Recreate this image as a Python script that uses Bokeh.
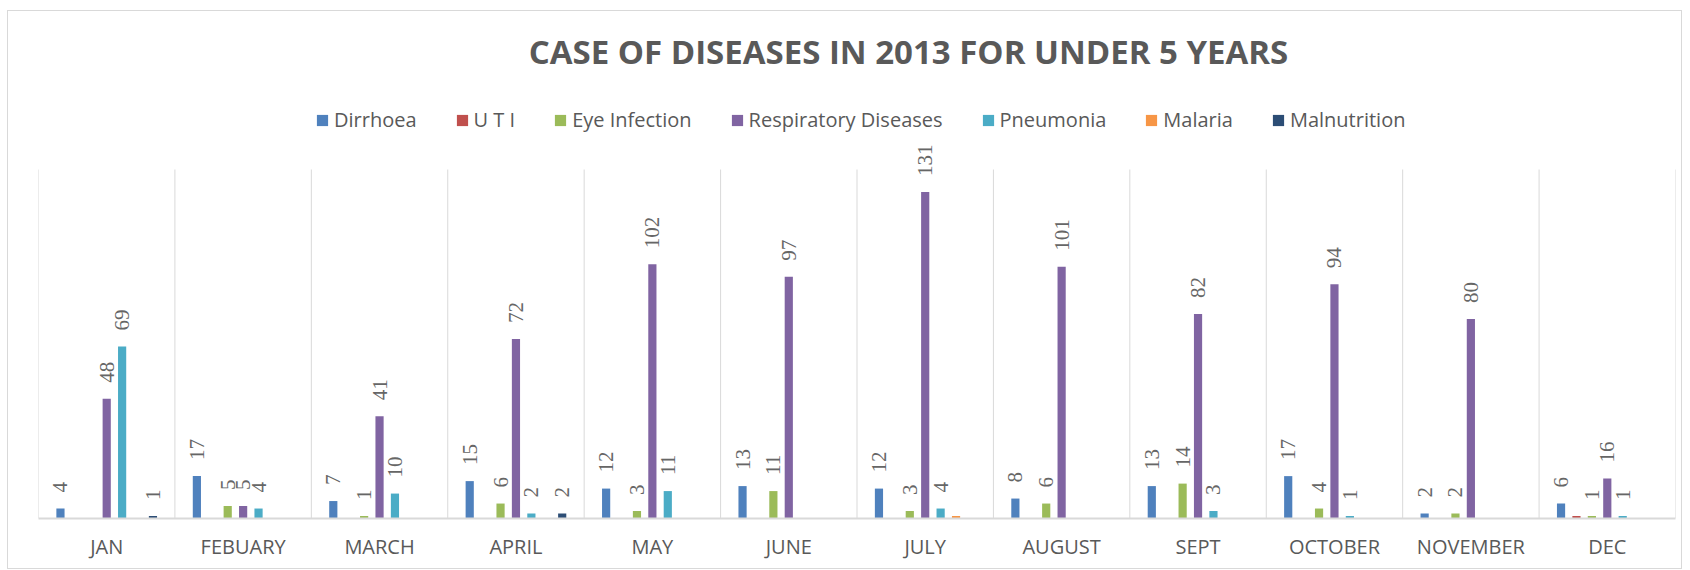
import numpy as np
from bokeh.plotting import figure
from bokeh.models import ColumnDataSource, Legend, LegendItem, Range1d, FactorRange, Label
from bokeh.transform import dodge
from bokeh.embed import file_html
from bokeh.resources import INLINE
from bokeh.core.properties import value

months = ["JAN", "FEBUARY", "MARCH", "APRIL", "MAY", "JUNE", "JULY",
          "AUGUST", "SEPT", "OCTOBER", "NOVEMBER", "DEC"]
series_names = ["Dirrhoea", "U T I", "Eye Infection", "Respiratory Diseases",
                "Pneumonia", "Malaria", "Malnutrition"]
dirrhoea = [4, 17, 7, 15, 12, 13, 12, 8, 13, 17, 2, 6]
uti = [0, 0, 0, 0, 0, 0, 0, 0, 0, 0, 0, 1]
eye_infection = [0, 5, 1, 6, 3, 11, 3, 6, 14, 4, 2, 1]
respiratory = [48, 5, 41, 72, 102, 97, 131, 101, 82, 94, 80, 16]
pneumonia = [69, 4, 10, 2, 11, 0, 4, 0, 3, 1, 0, 1]
malaria = [0, 0, 0, 0, 0, 0, 1, 0, 0, 0, 0, 0]
malnutrition = [1, 0, 0, 2, 0, 0, 0, 0, 0, 0, 0, 0]
# data labels not shown in the reference
hidden_labels = [("U T I", "DEC"), ("Malaria", "JULY")]
title_text = "CASE OF DISEASES IN 2013 FOR UNDER 5 YEARS"
axis_max = 140

colors = ["#4F81BD", "#C0504D", "#9BBB59", "#8064A2", "#4BACC6", "#F79646", "#2C4D75"]
all_values = [dirrhoea, uti, eye_infection, respiratory, pneumonia, malaria, malnutrition]

data = {"month": months}
for i, (name, vals) in enumerate(zip(series_names, all_values)):
    data[f"s{i}"] = vals
    data[f"l{i}"] = ["" if (v == 0 or (name, m) in hidden_labels) else str(v)
                     for v, m in zip(vals, months)]
src = ColumnDataSource(data)

# layout in pixels
W, H = 1675, 559
border_bottom = 52
frame_h = H - border_bottom
plot_h = 349          # pixel height of the 0..axis_max region
y_end = axis_max * frame_h / plot_h

p = figure(width=W, height=H, x_range=FactorRange(factors=months, range_padding=0),
           y_range=Range1d(0, y_end), output_backend="svg", toolbar_location=None,
           min_border_left=30, min_border_right=8, min_border_top=0, min_border_bottom=border_bottom,
           margin=(10, 0, 0, 7), styles={"border": "1px solid #d9d9d9"})
p.outline_line_color = None
p.background_fill_color = "white"
p.border_fill_color = "white"
p.grid.visible = False
p.yaxis.visible = False

# category separators
sep_src = ColumnDataSource({"month": months, "y0": [0] * len(months), "y1": [axis_max] * len(months)})
end_src = ColumnDataSource({"month": months[-1:], "y0": [0], "y1": [axis_max]})
p.segment(x0=dodge("month", -0.5, range=p.x_range), x1=dodge("month", -0.5, range=p.x_range),
          y0="y0", y1="y1", source=sep_src, line_color="#d9d9d9", line_width=1)
p.segment(x0=dodge("month", 0.5, range=p.x_range), x1=dodge("month", 0.5, range=p.x_range),
          y0="y0", y1="y1", source=end_src, line_color="#d9d9d9", line_width=1)

step = 0.113
bar_w = 0.06
renderers = []
for i, name in enumerate(series_names):
    off = (i - 3) * step
    r = p.vbar(x=dodge("month", off, range=p.x_range), top=f"s{i}", width=bar_w,
               source=src, fill_color=colors[i], line_color=None)
    renderers.append(r)
    p.text(x=dodge("month", off, range=p.x_range), y=f"s{i}", text=f"l{i}", source=src,
           angle=np.pi / 2, text_align="left", text_baseline="middle", y_offset=-16,
           text_font=value("Liberation Serif"), text_font_size="21px", text_color="#666666")

p.xaxis.axis_line_color = "#d9d9d9"
p.xaxis.axis_line_width = 2
p.xaxis.major_tick_line_color = None
p.xaxis.minor_tick_line_color = None
p.xaxis.major_label_standoff = 8
p.xaxis.major_label_text_font = "Open Sans"
p.xaxis.major_label_text_font_size = "20px"
p.xaxis.major_label_text_color = "#595959"

legend = Legend(items=[LegendItem(label=n, renderers=[r]) for n, r in zip(series_names, renderers)],
                orientation="horizontal", location=(277, 385), border_line_color=None,
                background_fill_alpha=0, label_text_font="Open Sans", label_text_font_size="20px",
                label_text_color="#595959", glyph_width=14, glyph_height=14, label_standoff=5,
                spacing=38, padding=5, margin=0)
p.add_layout(legend, "center")

title = Label(x=870, y=frame_h - 40, x_units="screen", y_units="screen", text=title_text,
              text_align="center", text_baseline="middle", text_font="Open Sans",
              text_font_size="33px", text_font_style="bold", text_color="#595959")
p.add_layout(title)

open("out.html", "w").write(file_html(p, INLINE))
